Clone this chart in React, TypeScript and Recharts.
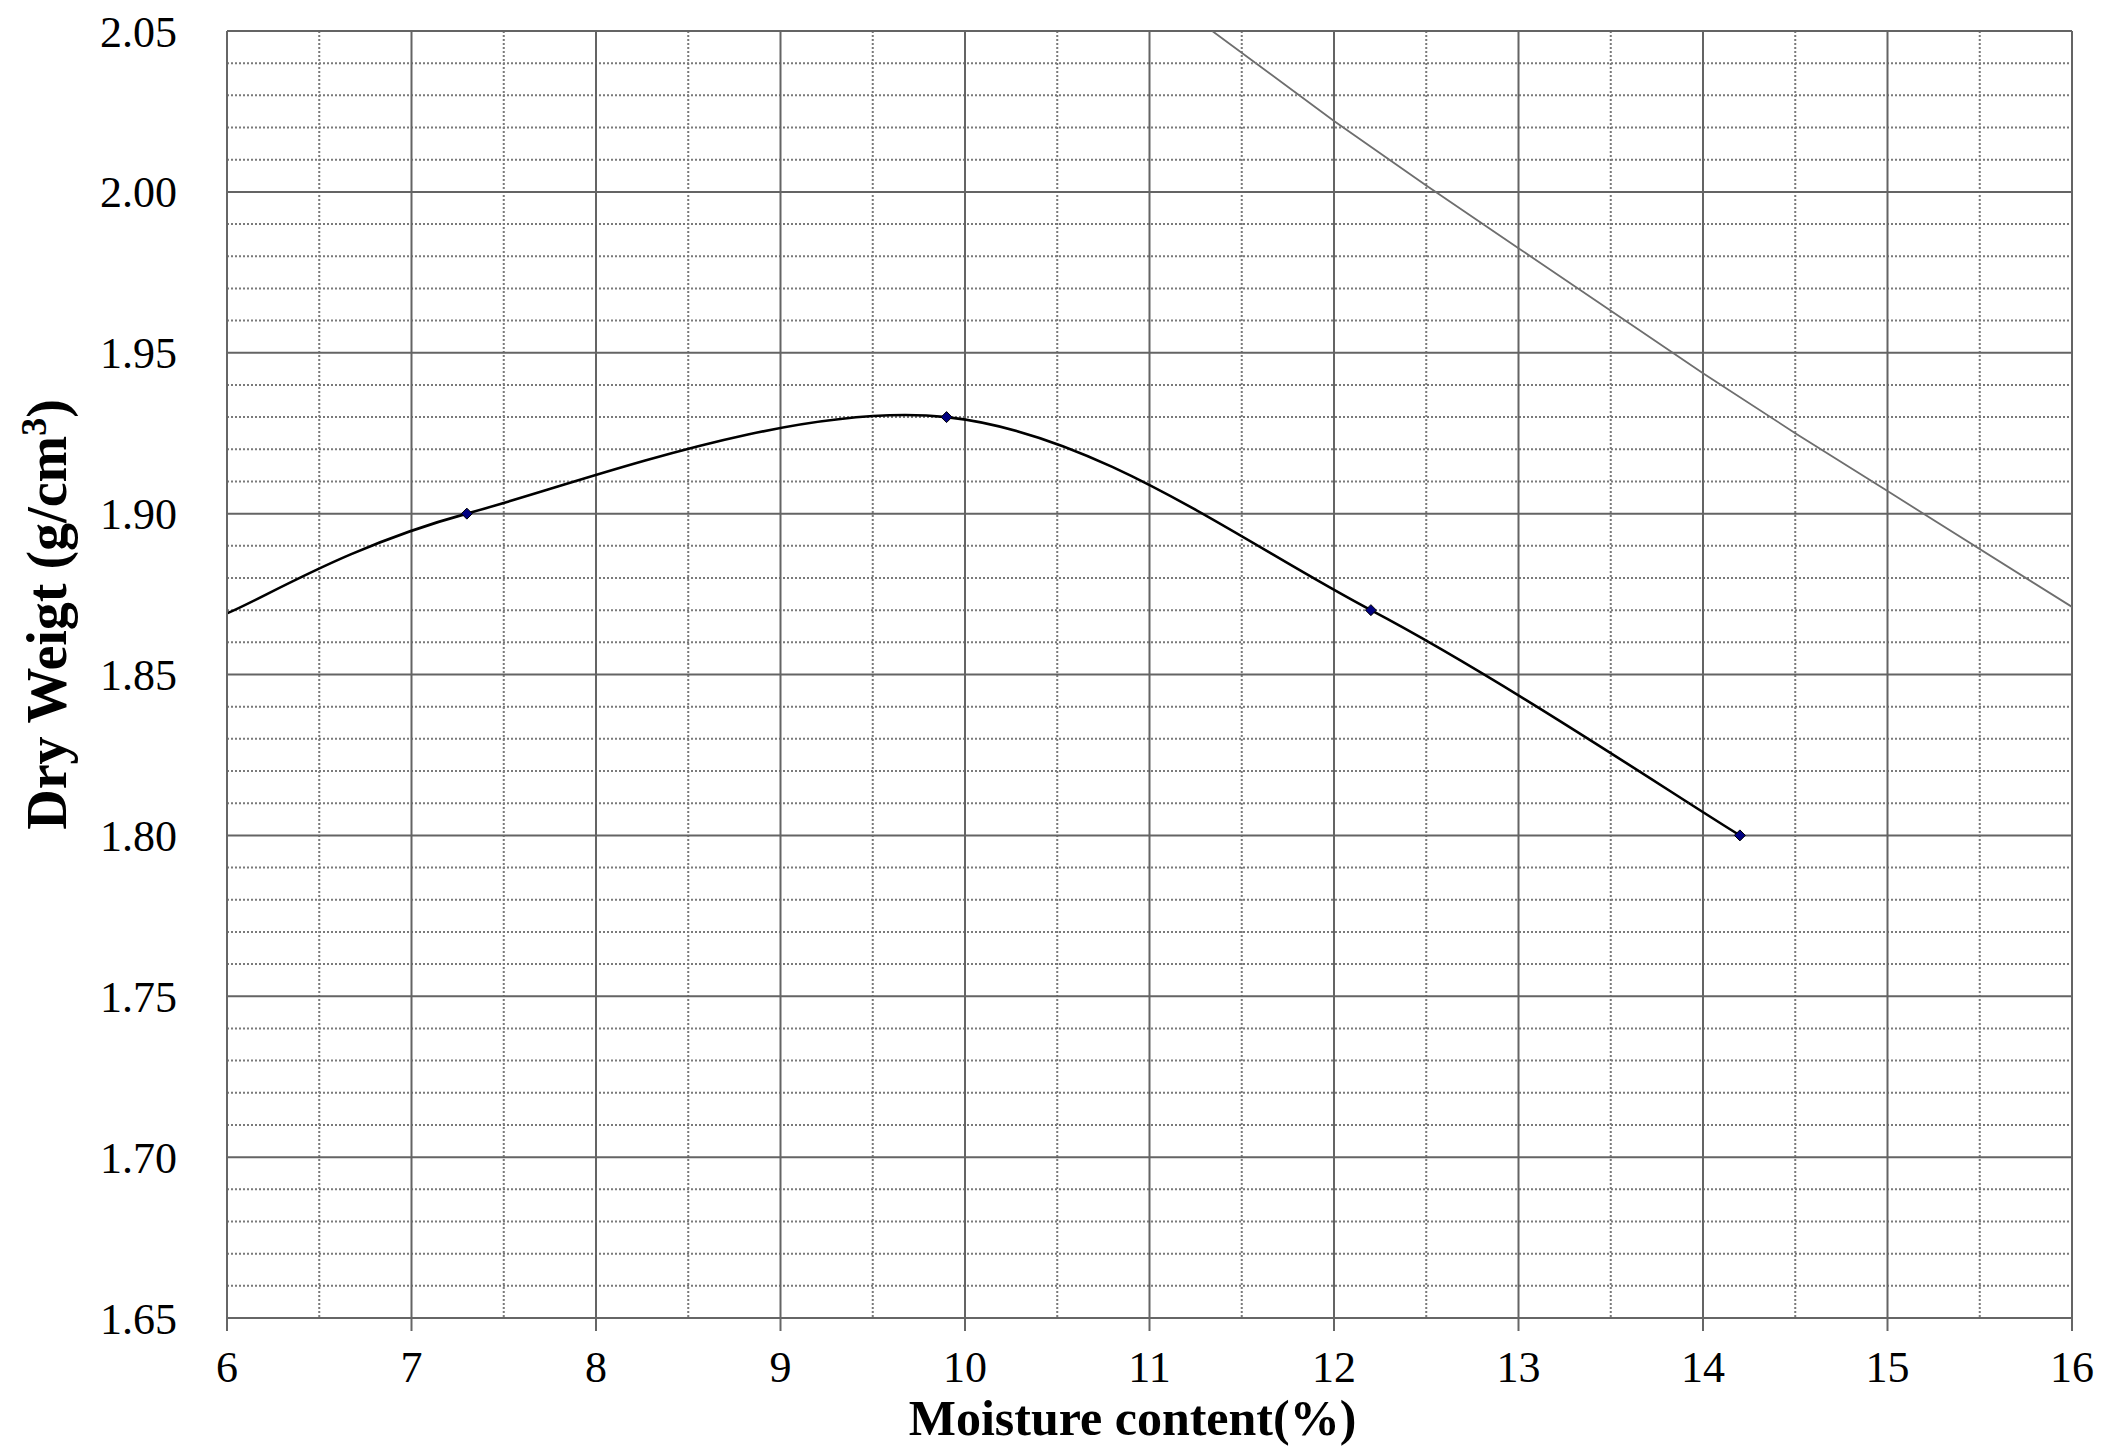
import React from 'react';
import { ComposedChart, Line, XAxis, YAxis, CartesianGrid, Label } from 'recharts';

// Compaction test points (moisture %, dry density g/cm3). First point lies on the left frame, no marker.
const moisture = [6.0, 7.3, 9.9, 12.2, 14.2];
const dryDensity = [1.869, 1.9, 1.93, 1.87, 1.8];
const showMarker = [false, true, true, true, true];

// Zero-air-voids line
const zavMoisture = [11.34, 12, 12.5, 13, 14, 14.5, 15, 16];
const zavDensity = [2.05, 2.022, 2.002, 1.9825, 1.9436, 1.925, 1.907, 1.871];

const xTicks = [6, 7, 8, 9, 10, 11, 12, 13, 14, 15, 16];
const yTicks = [1.65, 1.7, 1.75, 1.8, 1.85, 1.9, 1.95, 2.0, 2.05];
const xMinorTicks = [6.5, 7.5, 8.5, 9.5, 10.5, 11.5, 12.5, 13.5, 14.5, 15.5];
const yMinorTicks: number[] = [];
for (let i = 0; i <= 40; i++) {
  if (i % 5 !== 0) yMinorTicks.push(Math.round((1.65 + i * 0.01) * 100) / 100);
}

const curveData = moisture.map((x, i) => ({ x, y: dryDensity[i], marker: showMarker[i] }));
const zavData = zavMoisture.map((x, i) => ({ x, y: zavDensity[i] }));

// Excel-like smoothed line (Catmull-Rom style Bezier)
function excelSmooth(context: any) {
  let pts: number[][] = [];
  return {
    areaStart() {},
    areaEnd() {},
    lineStart() {
      pts = [];
    },
    point(x: number, y: number) {
      pts.push([+x, +y]);
    },
    lineEnd() {
      const n = pts.length;
      if (!n) return;
      context.moveTo(pts[0][0], pts[0][1]);
      for (let i = 0; i < n - 1; i++) {
        const p0 = pts[Math.max(i - 1, 0)];
        const p1 = pts[i];
        const p2 = pts[i + 1];
        const p3 = pts[Math.min(i + 2, n - 1)];
        context.bezierCurveTo(
          p1[0] + (p2[0] - p0[0]) / 6,
          p1[1] + (p2[1] - p0[1]) / 6,
          p2[0] - (p3[0] - p1[0]) / 6,
          p2[1] - (p3[1] - p1[1]) / 6,
          p2[0],
          p2[1]
        );
      }
    },
  };
}

const FONT = '"Liberation Serif", "Times New Roman", serif';

const renderDot = (props: any) => {
  const { cx, cy, index, payload } = props;
  if (!payload || !payload.marker) return <g key={`d${index}`} />;
  const r = 5.5;
  return (
    <path
      key={`d${index}`}
      d={`M${cx},${cy - r}L${cx + r},${cy}L${cx},${cy + r}L${cx - r},${cy}Z`}
      fill="#000080"
      stroke="#000000"
      strokeWidth={1}
    />
  );
};

const X_DOMAIN = [6, 16];
const Y_DOMAIN = [1.65, 2.05];

function toPx(s: any, v: number, fallback: () => number): number {
  if (typeof s === 'function') {
    const r = s(v);
    if (typeof r === 'number' && !isNaN(r)) return r;
  }
  if (s && typeof s.map === 'function') {
    const r = s.map(v);
    if (typeof r === 'number' && !isNaN(r)) return r;
  }
  if (s && typeof s.scale === 'function') {
    const r = s.scale(v);
    if (typeof r === 'number' && !isNaN(r)) return r;
  }
  return fallback();
}

const hGen = (vals: number[]) => (p: any) => {
  const s = p && p.yAxis && p.yAxis.scale;
  const off = (p && p.offset) || { top: 0, height: 0 };
  return vals.map((v) =>
    toPx(s, v, () => off.top + ((Y_DOMAIN[1] - v) / (Y_DOMAIN[1] - Y_DOMAIN[0])) * off.height)
  );
};
const vGen = (vals: number[]) => (p: any) => {
  const s = p && p.xAxis && p.xAxis.scale;
  const off = (p && p.offset) || { left: 0, width: 0 };
  return vals.map((v) =>
    toPx(s, v, () => off.left + ((v - X_DOMAIN[0]) / (X_DOMAIN[1] - X_DOMAIN[0])) * off.width)
  );
};

export default function App() {
  return (
    <div style={{ width: 2101, height: 1455, background: '#fff' }}>
      <style>{`body{margin:0;background:#fff;}`}</style>
      <ComposedChart
        width={2101}
        height={1455}
        margin={{ top: 31, right: 29, left: 0, bottom: 0 }}
      >
        <CartesianGrid
          stroke="#7a7a7a"
          strokeWidth={2}
          strokeDasharray="2 2"
          horizontalCoordinatesGenerator={hGen(yMinorTicks)}
          verticalCoordinatesGenerator={vGen(xMinorTicks)}
          fill="none"
        />
        <CartesianGrid
          stroke="#646464"
          strokeWidth={2}
          horizontalCoordinatesGenerator={hGen(yTicks)}
          verticalCoordinatesGenerator={vGen(xTicks)}
          fill="none"
        />
        <XAxis
          type="number"
          dataKey="x"
          domain={X_DOMAIN}
          ticks={xTicks}
          interval={0}
          allowDataOverflow
          height={137}
          stroke="#666666"
          strokeWidth={2}
          tickSize={13}
          tickMargin={20}
          tick={{ fill: '#000', fontSize: 44, fontFamily: FONT }}
          tickFormatter={(v: number) => String(v)}
        >
          <Label
            content={(p: any) => {
              const vb = p.viewBox || {};
              return (
                <text
                  x={vb.x + vb.width / 2 - 17}
                  y={vb.y + 117}
                  textAnchor="middle"
                  fontFamily={FONT}
                  fontWeight="bold"
                  fontSize={50}
                  fill="#000"
                >
                  Moisture content(%)
                </text>
              );
            }}
          />
        </XAxis>
        <YAxis
          type="number"
          domain={Y_DOMAIN}
          ticks={yTicks}
          interval={0}
          allowDataOverflow
          width={227}
          stroke="#666666"
          strokeWidth={2}
          tickLine={false}
          tickSize={0}
          tickMargin={50}
          tick={{ fill: '#000', fontSize: 44, fontFamily: FONT }}
          tickFormatter={(v: number) => v.toFixed(2)}
        >
          <Label
            content={(p: any) => {
              const vb = p.viewBox || {};
              const cx = 66;
              const cy = vb.y + vb.height / 2 - 60;
              return (
                <text
                  x={cx}
                  y={cy}
                  transform={`rotate(-90 ${cx} ${cy})`}
                  textAnchor="middle"
                  fontFamily={FONT}
                  fontWeight="bold"
                  fontSize={56}
                  fill="#000"
                >
                  Dry Weigt (g/cm
                  <tspan dy={-20} fontSize={36}>3</tspan>
                  <tspan dy={20}>)</tspan>
                </text>
              );
            }}
          />
        </YAxis>
        <Line
          data={zavData}
          dataKey="y"
          type="linear"
          stroke="#6e6e6e"
          strokeWidth={1.8}
          dot={false}
          activeDot={false}
          isAnimationActive={false}
        />
        <Line
          data={curveData}
          dataKey="y"
          type={excelSmooth as any}
          stroke="#000000"
          strokeWidth={2.6}
          dot={renderDot}
          activeDot={false}
          isAnimationActive={false}
        />
      </ComposedChart>
    </div>
  );
}
